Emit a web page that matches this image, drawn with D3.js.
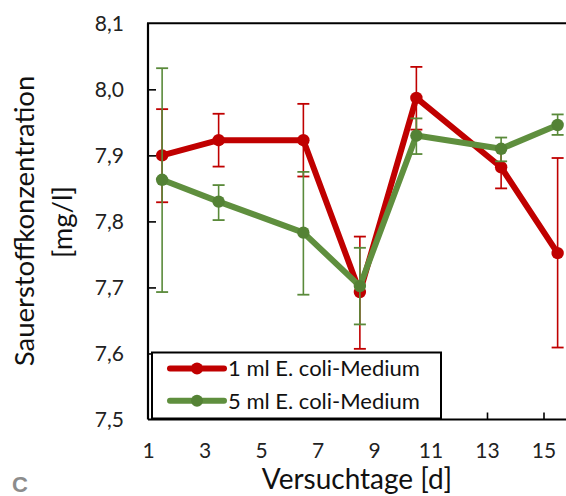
<!DOCTYPE html>
<html>
<head>
<meta charset="utf-8">
<script src="https://cdn.jsdelivr.net/npm/d3@7"></script>
<style>
  body { margin: 0; background: #fff; }
  svg { display: block; font-family: Lato, "Open Sans", sans-serif; }
</style>
</head>
<body>
<svg id="chart" width="566" height="496"></svg>
<script>
// values
var days = [1.5, 3.5, 6.5, 8.5, 10.5, 13.5, 15.5];
var red1ml = [7.900, 7.923, 7.923, 7.693, 7.987, 7.882, 7.752];
var red1mlHi = [7.970, 7.963, 7.978, 7.777, 8.034, 7.914, 7.896];
var red1mlLo = [7.829, 7.883, 7.868, 7.607, 7.939, 7.850, 7.609];
var green5ml = [7.863, 7.830, 7.783, 7.702, 7.930, 7.910, 7.946];
var green5mlHi = [8.032, 7.855, 7.875, 7.760, 7.956, 7.927, 7.962];
var green5mlLo = [7.693, 7.802, 7.689, 7.644, 7.902, 7.891, 7.931];
var xTicks = [1, 3, 5, 7, 9, 11, 13, 15];
var yTicks = [7.5, 7.6, 7.7, 7.8, 7.9, 8.0, 8.1];
var seriesNames = ["1 ml E. coli-Medium", "5 ml E. coli-Medium"];

var svg = d3.select("#chart");
var plotLeft = 148, plotTop = 23.3, plotBottom = 419.5;

var x = d3.scaleLinear().domain([1, 16]).range([plotLeft, plotLeft + 15 * 28.25]);
var y = d3.scaleLinear().domain([7.5, 8.1]).range([plotBottom, plotTop]);

var series = [
  {name: seriesNames[0], v: red1ml, hi: red1mlHi, lo: red1mlLo, line: "#c00000", bar: "#c00000", dot: "#c00000"},
  {name: seriesNames[1], v: green5ml, hi: green5mlHi, lo: green5mlLo, line: "#5f8f3e", bar: "#5a8a3a", dot: "#548235"}
];

var g = svg.append("g");

series.forEach(function(s) {
  var eb = g.append("g");
  days.forEach(function(d, i) {
    var cx = x(d);
    eb.append("line").attr("x1", cx).attr("x2", cx)
      .attr("y1", y(s.lo[i])).attr("y2", y(s.hi[i]))
      .attr("stroke", s.bar).attr("stroke-width", 1.6);
    [s.lo[i], s.hi[i]].forEach(function(v) {
      eb.append("line").attr("x1", cx - 6).attr("x2", cx + 6)
        .attr("y1", y(v)).attr("y2", y(v))
        .attr("stroke", s.bar).attr("stroke-width", 1.8);
    });
  });
  var line = d3.line().x(function(d, i) { return x(days[i]); }).y(function(d) { return y(d); });
  g.append("path").datum(s.v).attr("d", line)
    .attr("fill", "none").attr("stroke", s.line).attr("stroke-width", 6)
    .attr("stroke-linejoin", "round");
  g.selectAll(null).data(s.v).enter().append("circle")
    .attr("cx", function(d, i) { return x(days[i]); })
    .attr("cy", function(d) { return y(d); })
    .attr("r", 6.2).attr("fill", s.dot);
});

// axes
var yAxis = d3.axisLeft(y).tickValues(yTicks).tickSize(-8).tickPadding(24)
  .tickFormat(function(d) { return d3.format(".1f")(d).replace(".", ","); });
var ya = svg.append("g").attr("transform", "translate(" + plotLeft + ",0)").call(yAxis);
var xAxis = d3.axisBottom(x).tickValues(xTicks).tickSize(-7).tickPadding(24).tickFormat(d3.format("d"));
var xa = svg.append("g").attr("transform", "translate(0," + plotBottom + ")").call(xAxis);
[ya, xa].forEach(function(a) {
  a.select(".domain").attr("stroke", "#000").attr("stroke-width", 2.2);
  a.selectAll(".tick line").attr("stroke", "#000").attr("stroke-width", 1.6);
  a.selectAll("text").attr("font-size", 21).attr("fill", "#222").attr("font-family", "Lato, sans-serif");
});
xa.select(".domain").attr("d", "M" + plotLeft + ",0H566");
ya.select(".domain").attr("d", "M0," + plotTop + "V" + plotBottom);
xa.selectAll(".tick").filter(function(d) { return d === 1; }).select("line").remove();
ya.selectAll(".tick").filter(function(d) { return d === 7.5 || d === 8.1; }).select("line").remove();
// top frame
svg.append("line").attr("x1", plotLeft - 1).attr("x2", 566).attr("y1", plotTop).attr("y2", plotTop)
  .attr("stroke", "#000").attr("stroke-width", 2);

// legend
var lg = svg.append("g");
lg.append("rect").attr("x", 152).attr("y", 352.5).attr("width", 289).attr("height", 66)
  .attr("fill", "#fff").attr("stroke", "#000").attr("stroke-width", 2);
series.forEach(function(s, i) {
  var ly = 368.5 + i * 32.3;
  lg.append("line").attr("x1", 170).attr("x2", 224).attr("y1", ly).attr("y2", ly)
    .attr("stroke", s.line).attr("stroke-width", 6).attr("stroke-linecap", "round");
  lg.append("circle").attr("cx", 197).attr("cy", ly).attr("r", 6).attr("fill", s.dot);
  lg.append("text").attr("x", 228).attr("y", ly).attr("dy", "0.36em")
    .attr("font-size", 22).attr("fill", "#111").text(s.name);
});

// titles
svg.append("text").attr("x", 357).attr("y", 489)
  .attr("text-anchor", "middle").attr("font-size", 28).attr("fill", "#111").text("Versuchtage [d]");
svg.append("text").attr("transform", "translate(24,221) rotate(-90)").attr("dy", "0.36em")
  .attr("text-anchor", "middle").attr("font-size", 27.5).attr("fill", "#111").text("Sauerstoffkonzentration");
svg.append("text").attr("transform", "translate(62,222) rotate(-90)").attr("dy", "0.36em")
  .attr("text-anchor", "middle").attr("font-size", 27.5).attr("fill", "#111").text("[mg/l]");
svg.append("text").attr("x", 20).attr("y", 492)
  .attr("text-anchor", "middle").attr("font-size", 22).attr("font-weight", "bold")
  .attr("fill", "#8c8c8c").attr("font-family", "Liberation Sans, Arial, sans-serif").text("C");
</script>
</body>
</html>
